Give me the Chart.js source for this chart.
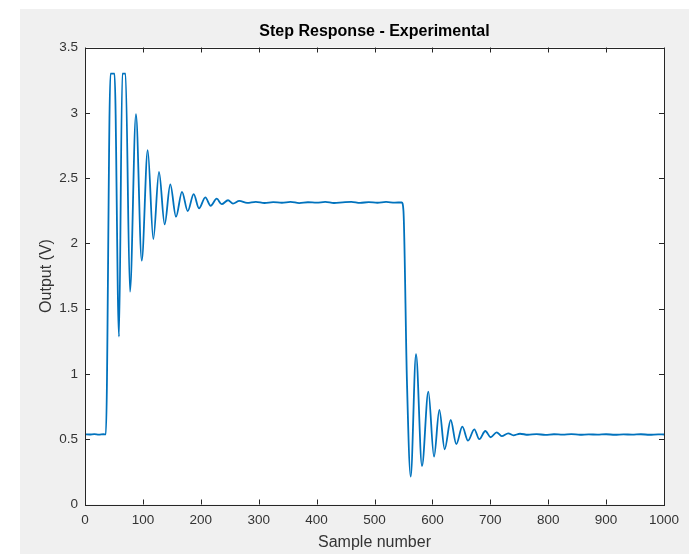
<!DOCTYPE html>
<html>
<head>
<meta charset="utf-8">
<script src="https://cdn.jsdelivr.net/npm/chart.js@4.4.1/dist/chart.umd.min.js"></script>
<style>
  html, body { margin: 0; padding: 0; background: #ffffff; }
  #wrap { width: 689px; height: 554px; }
</style>
</head>
<body>
<div id="wrap"><canvas id="chart01"></canvas></div>
<script>
// step response (sample number / volts)
var sampleNo = [
  0, 8, 16, 24, 32, 36, 44, 47.5, 51, 58.7, 64.5, 67.2, 70, 77.7, 88, 98, 108.3, 118, 127.8, 137.6,
  147.3, 157.2, 167.5, 177.4, 187.7, 196.9, 207.8, 217, 227.5, 236, 247, 255.6, 266.5, 280, 295,
  310, 325, 340, 355, 370, 385, 400, 415, 430, 445, 460, 475, 490, 505, 520, 535, 547,
  550, 556, 562.5, 571.7, 582, 593, 602.8, 612, 621.2, 631.6, 641.3, 651.7, 661.5, 672.4, 681,
  691.4, 700.7, 711, 719.7, 731, 739.8, 751.3, 765, 780, 795, 810, 825, 840, 855, 870, 885,
  900, 915, 930, 945, 960, 975, 990, 1000
];
var outputV = [
  0.537, 0.536, 0.539, 0.535, 0.538, 0.537, 3.30, 3.30, 3.30, 1.285, 3.30, 3.30, 3.30, 1.63, 2.99, 1.867, 2.714, 2.033, 2.548, 2.145,
  2.452, 2.204, 2.395, 2.247, 2.377, 2.268, 2.352, 2.288, 2.342, 2.300, 2.330, 2.305, 2.325, 2.310, 2.318,
  2.309, 2.316, 2.311, 2.318, 2.308, 2.315, 2.312, 2.317, 2.309, 2.314, 2.318, 2.310, 2.316, 2.311, 2.317, 2.312, 2.314,
  2.250, 0.950, 0.213, 1.152, 0.295, 0.864, 0.366, 0.724, 0.423, 0.647, 0.463, 0.596, 0.489, 0.576, 0.500,
  0.563, 0.515, 0.553, 0.524, 0.545, 0.530, 0.542, 0.534, 0.539, 0.533, 0.538, 0.535, 0.539, 0.534, 0.537, 0.535,
  0.538, 0.534, 0.537, 0.535, 0.538, 0.534, 0.537, 0.536
];
var xTicks = [0, 100, 200, 300, 400, 500, 600, 700, 800, 900, 1000];
var yTicks = [0, 0.5, 1, 1.5, 2, 2.5, 3, 3.5];
var chartTitle = 'Step Response - Experimental';

var points = sampleNo.map(function (s, i) { return { x: s, y: outputV[i] }; });

// MATLAB風の枠と内向きの目盛り
var matlabFrame = {
  id: 'matlabFrame',
  beforeDraw: function (chart) {
    var ctx = chart.ctx, a = chart.chartArea;
    ctx.save();
    ctx.fillStyle = '#ffffff';
    ctx.fillRect(0, 0, chart.width, chart.height);
    ctx.fillStyle = '#f0f0f0';
    ctx.fillRect(20, 9, chart.width - 20, chart.height - 9);
    ctx.fillStyle = '#ffffff';
    ctx.fillRect(a.left, a.top, a.right - a.left, a.bottom - a.top);
    ctx.restore();
  },
  afterDraw: function (chart) {
    var ctx = chart.ctx, a = chart.chartArea;
    var xs = chart.scales.x, ys = chart.scales.y;
    var len = 5;
    ctx.save();
    ctx.strokeStyle = '#262626';
    ctx.lineWidth = 1;
    ctx.beginPath();
    xTicks.forEach(function (v) {
      var px = Math.round(xs.getPixelForValue(v)) + 0.5;
      ctx.moveTo(px, a.bottom); ctx.lineTo(px, a.bottom - len);
      ctx.moveTo(px, a.top); ctx.lineTo(px, a.top + len);
    });
    yTicks.forEach(function (v) {
      var py = Math.round(ys.getPixelForValue(v)) + 0.5;
      ctx.moveTo(a.left, py); ctx.lineTo(a.left + len, py);
      ctx.moveTo(a.right, py); ctx.lineTo(a.right - len, py);
    });
    ctx.stroke();
    ctx.strokeRect(Math.round(a.left) + 0.5, Math.round(a.top) + 0.5,
      Math.round(a.right - a.left), Math.round(a.bottom - a.top));

    // タイトル（プロット領域の中央）
    ctx.fillStyle = '#000000';
    ctx.font = 'bold 16px "Liberation Sans", Arial, sans-serif';
    ctx.textAlign = 'center';
    ctx.textBaseline = 'middle';
    ctx.fillText(chartTitle, (a.left + a.right) / 2, 32);
    ctx.restore();
  }
};

var ctx = document.getElementById('chart01');
var chart = new Chart(ctx, {
  type: 'line',
  data: {
    datasets: [{
      label: 'Output',
      data: points,
      borderColor: '#0072BD',
      borderWidth: 1.8,
      pointRadius: 0,
      fill: false,
      cubicInterpolationMode: 'monotone'
    }]
  },
  options: {
    responsive: true,
    maintainAspectRatio: false,
    animation: false,
    layout: { padding: { left: 0, right: 25, top: 47.5, bottom: 0 } },
    plugins: {
      legend: { display: false },
      tooltip: { enabled: false },
      title: { display: false }
    },
    scales: {
      x: {
        type: 'linear',
        min: 0,
        max: 1000,
        afterBuildTicks: function (scale) { scale.ticks = xTicks.map(function (v) { return { value: v }; }); },
        afterFit: function (scale) { scale.height = 49.5; },
        grid: { display: false, drawTicks: false },
        border: { display: false },
        ticks: {
          padding: 8,
          maxRotation: 0,
          color: '#333333',
          font: { family: 'Liberation Sans, Arial, sans-serif', size: 13.5 },
          callback: function (v) { return String(v); }
        },
        title: {
          display: true,
          text: 'Sample number',
          color: '#333333',
          font: { family: 'Liberation Sans, Arial, sans-serif', size: 16 },
          padding: { top: 0, bottom: 2 }
        }
      },
      y: {
        type: 'linear',
        min: 0,
        max: 3.5,
        afterBuildTicks: function (scale) { scale.ticks = yTicks.map(function (v) { return { value: v }; }); },
        afterFit: function (scale) { scale.width = 85; },
        grid: { display: false, drawTicks: false },
        border: { display: false },
        ticks: {
          padding: 7,
          color: '#333333',
          font: { family: 'Liberation Sans, Arial, sans-serif', size: 13.5 },
          callback: function (v) { return String(v); }
        },
        title: {
          display: true,
          text: 'Output (V)',
          color: '#333333',
          font: { family: 'Liberation Sans, Arial, sans-serif', size: 16 },
          padding: { top: 37, bottom: 0 }
        }
      }
    }
  },
  plugins: [matlabFrame]
});
</script>
</body>
</html>
